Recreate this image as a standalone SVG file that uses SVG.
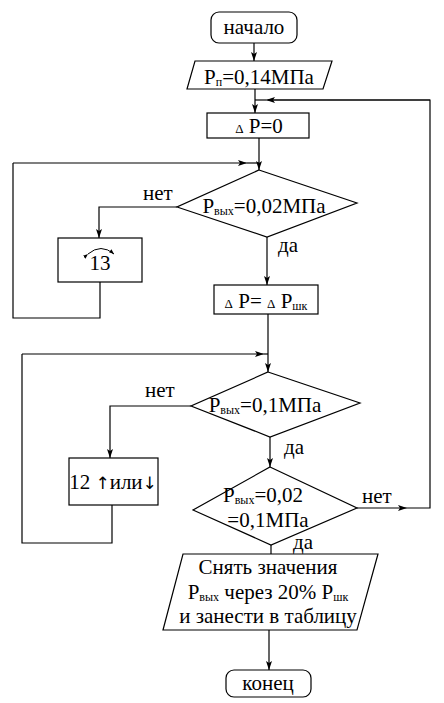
<svg xmlns="http://www.w3.org/2000/svg" width="444" height="703" viewBox="0 0 444 703">
<defs>
<marker id="a" markerWidth="10" markerHeight="6" refX="9" refY="3" orient="auto" markerUnits="userSpaceOnUse">
<path d="M0,0 L9,3 L0,6 L2,3 z" fill="#000"/>
</marker>
<marker id="sa" markerWidth="6" markerHeight="4" refX="5" refY="2" orient="auto" markerUnits="userSpaceOnUse">
<path d="M0,0 L5,2 L0,4 z" fill="#000"/>
</marker>
</defs>
<g id="connectors" fill="none" stroke="#000" stroke-width="1.2">
<path d="M254,43 V61" marker-end="url(#a)"/>
<path d="M255,89 V113" marker-end="url(#a)"/>
<path d="M259,138 V170" marker-end="url(#a)"/>
<path d="M13,163 V318 H100 V282"/>
<path d="M13,163 H247" marker-end="url(#a)"/>
<path d="M247,163 H259"/>
<path d="M177,207 H99 V238" marker-end="url(#a)"/>
<path d="M267,237 V285" marker-end="url(#a)"/>
<path d="M268,314 V372" marker-end="url(#a)"/>
<path d="M22,354 V543 H112 V505"/>
<path d="M22,354 H264" marker-end="url(#a)"/>
<path d="M264,354 H268"/>
<path d="M191,406 H110 V458" marker-end="url(#a)"/>
<path d="M270,437 V467" marker-end="url(#a)"/>
<path d="M357,508 H407" marker-end="url(#a)"/>
<path d="M407,508 H430 V100 H268"/>
<path d="M430,100 H266" marker-end="url(#a)"/>
<path d="M266,100 H255"/>
<path d="M271,545 V554"/>
<path d="M269,630 V670" marker-end="url(#a)"/>
</g>
<g id="start">
<rect x="211" y="12" width="86" height="31" rx="8" fill="#fff" stroke="#000" stroke-width="1.2"/>
<text x="254" y="34" text-anchor="middle" font-family="Liberation Serif" font-size="21">начало</text>
</g>
<g id="input-pp">
<polygon points="195,61 332,61 323,89 187,89" fill="#fff" stroke="#000" stroke-width="1.2"/>
<text x="259" y="84" text-anchor="middle" font-family="Liberation Serif" font-size="21">P<tspan font-size="12" dy="2">п</tspan><tspan dy="-2">=0,14МПа</tspan></text>
</g>
<g id="dp0">
<rect x="207" y="113" width="102" height="25" fill="#fff" stroke="#000" stroke-width="1.2"/>
<text x="259" y="133" text-anchor="middle" font-family="Liberation Serif" font-size="21"><tspan font-size="13">Δ</tspan> P=0</text>
</g>
<g id="cond1">
<polygon points="259,170 357,203 267,237 177,207" fill="#fff" stroke="#000" stroke-width="1.2"/>
<text x="264" y="213" text-anchor="middle" font-family="Liberation Serif" font-size="21">P<tspan font-size="12" dy="2">вых</tspan><tspan dy="-2">=0,02МПа</tspan></text>
<text x="143" y="200" font-family="Liberation Serif" font-size="21">нет</text>
<text x="278" y="252" font-family="Liberation Serif" font-size="21">да</text>
</g>
<g id="box13">
<rect x="58" y="238" width="84" height="44" fill="#fff" stroke="#000" stroke-width="1.2"/>
<path d="M88,254 Q101,243 114,254" fill="none" stroke="#000" stroke-width="1" marker-start="url(#sa)" marker-end="url(#sa)"/>
<text x="100" y="270" text-anchor="middle" font-family="Liberation Serif" font-size="21">13</text>
</g>
<g id="dpshk">
<rect x="214" y="285" width="104" height="29" fill="#fff" stroke="#000" stroke-width="1.2"/>
<text x="266" y="308" text-anchor="middle" font-family="Liberation Serif" font-size="21"><tspan font-size="13">Δ</tspan> P= <tspan font-size="13">Δ</tspan> P<tspan font-size="12" dy="2">шк</tspan></text>
</g>
<g id="cond2">
<polygon points="268,372 360,403 270,437 191,406" fill="#fff" stroke="#000" stroke-width="1.2"/>
<text x="265" y="412" text-anchor="middle" font-family="Liberation Serif" font-size="21">P<tspan font-size="12" dy="2">вых</tspan><tspan dy="-2">=0,1МПа</tspan></text>
<text x="145" y="397" font-family="Liberation Serif" font-size="21">нет</text>
<text x="284" y="454" font-family="Liberation Serif" font-size="21">да</text>
</g>
<g id="box12">
<rect x="69" y="458" width="89" height="47" fill="#fff" stroke="#000" stroke-width="1.2"/>
<text x="113" y="489" text-anchor="middle" font-family="Liberation Serif" font-size="21">12 <tspan font-family="DejaVu Sans" font-size="17">↑</tspan>или<tspan font-family="DejaVu Sans" font-size="17">↓</tspan></text>
</g>
<g id="cond3">
<polygon points="270,467 357,508 271,545 193,510" fill="#fff" stroke="#000" stroke-width="1.2"/>
<text x="263" y="502" text-anchor="middle" font-family="Liberation Serif" font-size="21">P<tspan font-size="12" dy="2">вых</tspan><tspan dy="-2">=0,02</tspan></text>
<text x="268" y="527" text-anchor="middle" font-family="Liberation Serif" font-size="21">=0,1МПа</text>
<text x="362" y="503" font-family="Liberation Serif" font-size="21">нет</text>
<text x="293" y="549" font-family="Liberation Serif" font-size="21">да</text>
</g>
<g id="output">
<polygon points="183,554 378,554 357,630 163,630" fill="#fff" stroke="#000" stroke-width="1.2"/>
<text x="268" y="574" text-anchor="middle" font-family="Liberation Serif" font-size="21">Снять значения</text>
<text x="268" y="599" text-anchor="middle" font-family="Liberation Serif" font-size="21">P<tspan font-size="12" dy="2">вых</tspan><tspan dy="-2"> через 20% P</tspan><tspan font-size="12" dy="2">шк</tspan></text>
<text x="268" y="623" text-anchor="middle" font-family="Liberation Serif" font-size="21">и занести в таблицу</text>
</g>
<g id="end">
<rect x="226" y="670" width="85" height="27" rx="8" fill="#fff" stroke="#000" stroke-width="1.2"/>
<text x="268" y="690" text-anchor="middle" font-family="Liberation Serif" font-size="21">конец</text>
</g>
</svg>
